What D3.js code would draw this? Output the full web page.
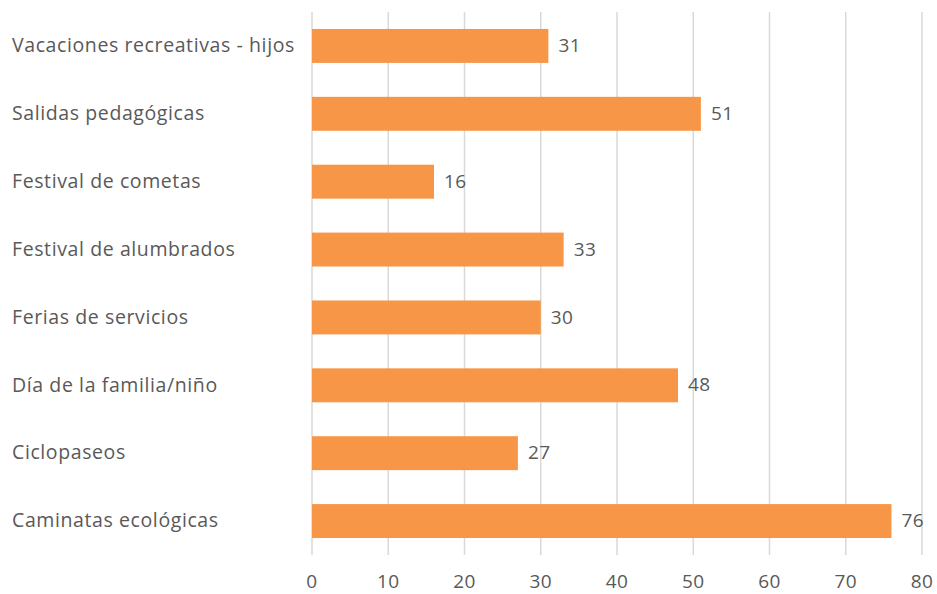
<!DOCTYPE html>
<html>
<head>
<meta charset="utf-8">
<script src="https://cdn.jsdelivr.net/npm/d3@7"></script>
<style>
  html, body { margin: 0; padding: 0; background: #fff; }
  svg text { font-family: "Open Sans", "Noto Sans", sans-serif; fill: #595959; }
</style>
</head>
<body>
<svg id="chart" width="937" height="594"></svg>
<script>
// Activities and number of participants
const categories = [
  "Vacaciones recreativas - hijos",
  "Salidas pedagógicas",
  "Festival de cometas",
  "Festival de alumbrados",
  "Ferias de servicios",
  "Día de la familia/niño",
  "Ciclopaseos",
  "Caminatas ecológicas"
];
const values = [31, 51, 16, 33, 30, 48, 27, 76];
const xTicks = [0, 10, 20, 30, 40, 50, 60, 70, 80];

const svg = d3.select("#chart");
const plotLeft = 312, plotRight = 922, plotTop = 12, plotBottom = 555;

const x = d3.scaleLinear().domain([0, 80]).range([plotLeft, plotRight]);
const y = d3.scaleBand().domain(categories).range([plotTop, plotBottom]).paddingInner(0.5).paddingOuter(0.25);

// vertical gridlines
svg.append("g").selectAll("line").data(xTicks).join("line")
  .attr("x1", d => x(d)).attr("x2", d => x(d))
  .attr("y1", plotTop).attr("y2", plotBottom)
  .attr("stroke", "#d9d9d9").attr("stroke-width", 1.5);

// x axis tick labels
svg.append("g").selectAll("text").data(xTicks).join("text")
  .attr("x", d => x(d)).attr("y", 588)
  .attr("text-anchor", "middle")
  .attr("font-size", 19)
  .attr("letter-spacing", 0.5)
  .text(d => d);

// bars
svg.append("g").selectAll("rect").data(categories).join("rect")
  .attr("x", x(0))
  .attr("y", d => y(d))
  .attr("width", (d, i) => x(values[i]) - x(0))
  .attr("height", y.bandwidth())
  .attr("fill", "#f79646");

// value labels
svg.append("g").selectAll("text").data(categories).join("text")
  .attr("x", (d, i) => x(values[i]) + 10)
  .attr("y", d => y(d) + y.bandwidth() / 2 + 1)
  .attr("dominant-baseline", "middle")
  .attr("font-size", 19)
  .attr("letter-spacing", 0.5)
  .text((d, i) => values[i]);

// category labels
svg.append("g").selectAll("text").data(categories).join("text")
  .attr("x", 12)
  .attr("y", d => y(d) + y.bandwidth() / 2 + 1)
  .attr("dominant-baseline", "middle")
  .attr("font-size", 19.5)
  .attr("letter-spacing", 0.6)
  .text(d => d);
</script>
</body>
</html>
